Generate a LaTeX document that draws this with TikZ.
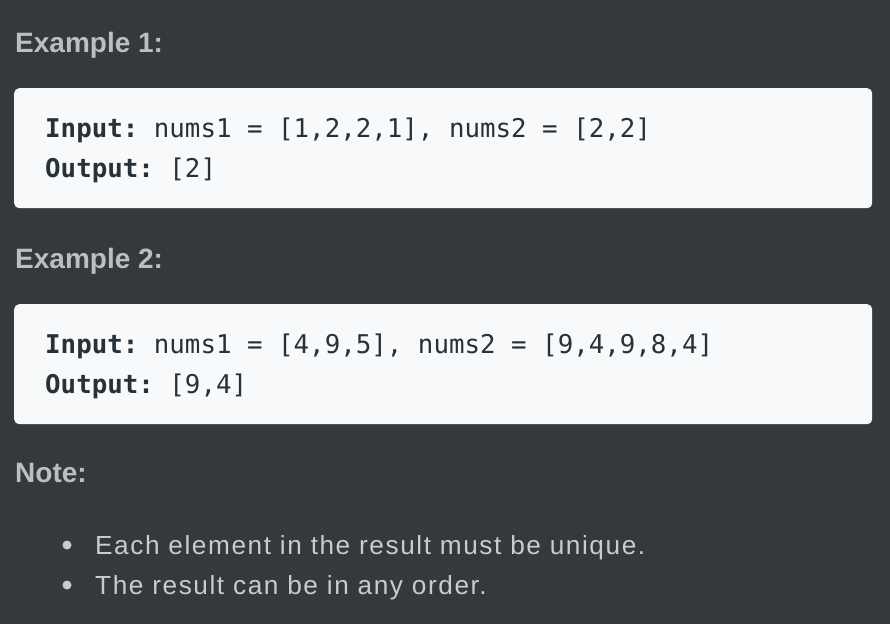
\documentclass[tikz,border=0pt]{standalone}
\usepackage{fontspec}
\setmainfont{Liberation Sans}
\setmonofont{DejaVu Sans Mono}
\newfontfamily\notefont{Liberation Sans}[LetterSpace=6]
\usetikzlibrary{positioning}
\definecolor{pagebg}{HTML}{35383D}
\definecolor{boxbg}{HTML}{F7F9FA}
\definecolor{headgray}{HTML}{BDBEBF}
\definecolor{textgray}{HTML}{CACBCC}
\definecolor{codeink}{HTML}{263238}

\begin{document}
\begin{tikzpicture}[
  x=1pt, y=-1pt,
  headnode/.style={anchor=base west,inner sep=0pt,text=headgray,font=\fontsize{28}{34}\selectfont\bfseries},
  boxnode/.style={anchor=north west,fill=boxbg,rounded corners=5pt,minimum width=858pt,minimum height=120pt,inner sep=0pt},
  codenode/.style={anchor=base west,inner sep=0pt,text=codeink,font=\fontsize{25.8}{30}\selectfont\ttfamily},
  dotnode/.style={circle,fill=textgray,inner sep=0pt,minimum size=9pt},
  itemnode/.style={anchor=base west,inner sep=0pt,text=textgray,font=\fontsize{26.2}{32}\selectfont\notefont}
]
\fill[pagebg] (0,0) rectangle (890,624);
\useasboundingbox (0,0) rectangle (890,624);
\node[headnode] (ex1) at (15,52) {Example 1:};
\node[boxnode] (box1) at (14,88) {};
\node[codenode] (in1) at (45,137) {\textbf{Input:} nums1 = [1,2,2,1], nums2 = [2,2]};
\node[codenode] (out1) at (45,177) {\textbf{Output:} [2]};
\node[headnode] (ex2) at (15,268) {Example 2:};
\node[boxnode] (box2) at (14,304) {};
\node[codenode] (in2) at (45,353) {\textbf{Input:} nums1 = [4,9,5], nums2 = [9,4,9,8,4]};
\node[codenode] (out2) at (45,393) {\textbf{Output:} [9,4]};
\node[headnode] (note) at (15,482) {Note:};
\node[itemnode] (item1) at (95,554) {Each element in the result must be unique.};
\node[itemnode] (item2) at (95,594) {The result can be in any order.};
\node[dotnode] (dot1) at ([xshift=-28pt,yshift=9pt]item1.base west) {};
\node[dotnode] (dot2) at ([xshift=-28pt,yshift=9pt]item2.base west) {};
\end{tikzpicture}
\end{document}
